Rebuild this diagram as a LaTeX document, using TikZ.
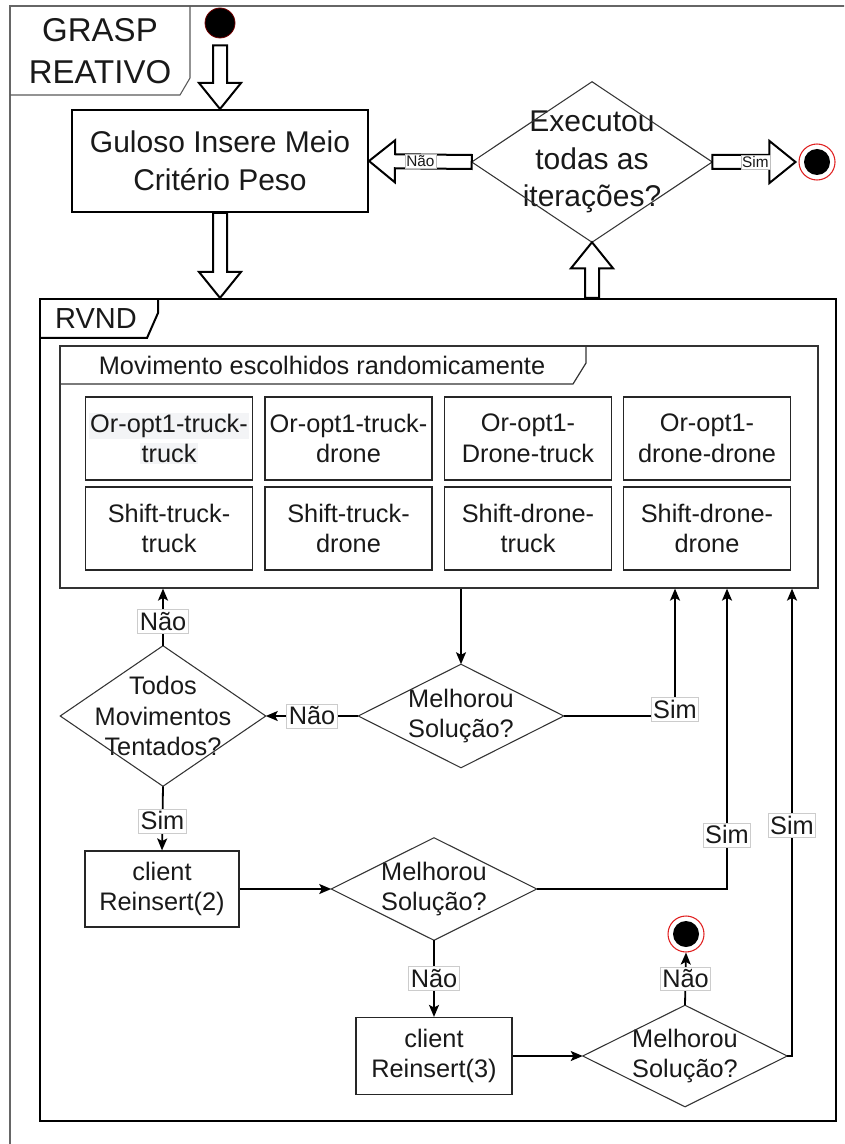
\documentclass[tikz,border=0pt]{standalone}
\usepackage{fontspec}
\setmainfont{Liberation Sans}
\usetikzlibrary{calc,arrows.meta}

\definecolor{hlgray}{HTML}{F3F4F6}
\definecolor{ringred}{HTML}{E02020}

% geometry of the wide hollow arrows
\newcommand\haShaft{5.25pt}
\newcommand\haHalf{15.75pt}
\newcommand\haHead{19.5pt}
% hollow block arrow from #1 to #2 (tip at #2)
\newcommand\hollowarrow[2]{%
  \coordinate (ha-s) at (#1);
  \coordinate (ha-e) at (#2);
  \coordinate (ha-h) at ($(ha-e)!\haHead!(ha-s)$);
  \draw[hollow] ($(ha-s)!\haShaft!90:(ha-e)$)
    -- ($(ha-h)!\haShaft!-90:(ha-s)$)
    -- ($(ha-h)!\haHalf!-90:(ha-s)$)
    -- (ha-e)
    -- ($(ha-h)!\haHalf!90:(ha-s)$)
    -- ($(ha-h)!\haShaft!90:(ha-s)$)
    -- ($(ha-s)!\haShaft!-90:(ha-e)$) -- cycle;
}
% rhombus outline through the anchors of a decision node
\newcommand\diaframe[1]{%
  \draw[diaedge] (#1.north) -- (#1.east) -- (#1.south) -- (#1.west) -- cycle;
}

\begin{document}
\begin{tikzpicture}[x=0.75pt,y=-0.75pt,
  every node/.style={text=black!90,font=\fontsize{19}{23}\selectfont},
  hollow/.style={draw=black,line width=1.5pt,fill=white,line join=miter},
  movebox/.style={draw=black!85,line width=0.9pt,align=center,inner sep=0pt,
    minimum width=125.25pt,minimum height=62.25pt},
  stepbox/.style={draw=black!85,line width=0.9pt,align=center,inner sep=0pt},
  dia/.style={rectangle,inner sep=0pt,align=center},
  diaedge/.style={draw=black!80,line width=0.8pt},
  conn/.style={draw=black,line width=1.35pt,-{Stealth[length=9pt,width=7.5pt,inset=2pt]}},
  lbl/.style={fill=white,draw=black!20,line width=0.5pt,inner xsep=1.5pt,inner ysep=2pt},
  smalllbl/.style={fill=white,draw=black!25,line width=0.4pt,inner xsep=1pt,inner ysep=1pt,
    font=\fontsize{11.5}{13.5}\selectfont},
  startmark/.style={circle,fill=black,draw=red!45!black,line width=0.6pt,
    minimum size=22.5pt,inner sep=0pt},
  endmark/.style={circle,draw=ringred,line width=0.8pt,fill=white,minimum size=27pt,
    inner sep=0pt,path picture={\fill[black] (path picture bounding box.center) circle (9.75pt);}},
]
\useasboundingbox (0,0) rectangle (844,1144);
\clip (0,0) rectangle (844,1144);

% outer frame with its title tab
\draw[draw=black!60,line width=1.2pt] (10,6) rectangle (860,1160);
\draw[draw=black!65,line width=0.8pt] (190,6) -- (190,78) -- (180,95) -- (10,95);
\node[align=center,font=\fontsize{24.75}{31.5}\selectfont] (grasp) at (100,51) {GRASP\\REATIVO};

% start and greedy construction
\node[startmark] (start) at (220,23) {};
\node[draw=black,line width=1.5pt,align=center,inner sep=0pt,
  minimum width=222pt,minimum height=76.5pt,
  font=\fontsize{22.5}{28.5}\selectfont] (guloso) at (220,161) {Guloso Insere Meio\\Critério Peso};

% iteration check
\node[dia,minimum width=180pt,minimum height=120pt,
  font=\fontsize{22.5}{28}\selectfont] (exec) at (592,162) {Executou\\todas as\\iterações?};
\diaframe{exec}
\node[endmark] (end1) at (817,162) {};

% RVND frame
\node[draw=black,line width=1.6pt,minimum width=597pt,minimum height=616.5pt,inner sep=0pt] (rvnd) at (438,710) {};
\draw[draw=black,line width=1.5pt] (158,299) -- (158,313) -- (147,338) -- (40,338);
\node[font=\fontsize{21.75}{26}\selectfont] (rvndtitle) at (96,319) {RVND};

% neighbourhood moves
\node[draw=black!80,line width=0.9pt,minimum width=568.5pt,minimum height=181.5pt,inner sep=0pt] (moves) at (439,467) {};
\draw[draw=black!80,line width=0.9pt] (586,346) -- (586,363) -- (573,384) -- (60,384);
\node (movestitle) at (322,365) {Movimento escolhidos randomicamente};

{\setlength{\fboxsep}{1pt}
\node[movebox] (g11) at (169,438.5) {\colorbox{hlgray}{Or-opt1-truck-}\\\colorbox{hlgray}{truck}};}
\node[movebox] (g12) at (348.5,438.5) {Or-opt1-truck-\\drone};
\node[movebox] (g13) at (528,438.5) {Or-opt1-\\Drone-truck};
\node[movebox] (g14) at (707,438.5) {Or-opt1-\\drone-drone};
\node[movebox] (g21) at (169,528.5) {Shift-truck-\\truck};
\node[movebox] (g22) at (348.5,528.5) {Shift-truck-\\drone};
\node[movebox] (g23) at (528,528.5) {Shift-drone-\\truck};
\node[movebox] (g24) at (707,528.5) {Shift-drone-\\drone};

% decisions and reinsertion steps
\node[dia,minimum width=153.75pt,minimum height=77.25pt] (m1) at (461,716) {Melhorou\\Solução?};
\diaframe{m1}
\node[dia,minimum width=153.75pt,minimum height=105pt] (todos) at (163,716) {Todos\\Movimentos\\Tentados?};
\diaframe{todos}
\node[stepbox,minimum width=115.5pt,minimum height=57pt] (box2) at (162,889) {client\\Reinsert(2)};
\node[dia,minimum width=153.75pt,minimum height=76.5pt] (m2) at (434,889) {Melhorou\\Solução?};
\diaframe{m2}
\node[stepbox,minimum width=117pt,minimum height=57.75pt] (box3) at (434,1056) {client\\Reinsert(3)};
\node[dia,minimum width=153pt,minimum height=75.75pt] (m3) at (685,1056) {Melhorou\\Solução?};
\diaframe{m3}
\node[endmark] (end2) at (686,934) {};

% columns of the return lines
\coordinate (c1) at (675,0);
\coordinate (c2) at (727,0);
\coordinate (c3) at (792,0);

% wide arrows of the outer loop
\hollowarrow{$(start.south)+(0,7)$}{guloso.north}
\hollowarrow{guloso.south}{rvnd.north -| guloso.south}
\hollowarrow{rvnd.north -| exec.south}{exec.south}
\hollowarrow{exec.west}{guloso.east}
\hollowarrow{exec.east}{$(end1.west)+(-3,0)$}
\node[smalllbl] (lnao0) at ($(exec.west)!0.5!(guloso.east)$) {Não};
\node[smalllbl] (lsim0) at ($(exec.east)!0.5!(end1.west)$) {Sim};

% connectors inside RVND
\draw[conn] (moves.south -| m1.north) -- (m1.north);
\draw[conn] (m1.west) -- node[lbl] (lnao1) {Não} (todos.east);
\draw[conn] (todos.north) -- node[lbl,pos=0.43] (lnao2) {Não} (moves.south -| todos.north);
\draw[conn] (m1.east) -| node[lbl,pos=0.5,yshift=5pt] (lsim1) {Sim} (moves.south -| c1);
\draw[conn] (todos.south) -- node[lbl,pos=0.54] (lsim2) {Sim} (box2.north);
\draw[conn] (box2.east) -- (m2.west);
\draw[conn] (m2.east) -| node[lbl,pos=0.59] (lsim3) {Sim} (moves.south -| c2);
\draw[conn] (m2.south) -- node[lbl] (lnao3) {Não} (box3.north);
\draw[conn] (box3.east) -- (m3.west);
\draw[conn] (m3.north) -- node[lbl] (lnao4) {Não} (end2.south);
\draw[conn] (m3.east) -| node[lbl,pos=0.747] (lsim4) {Sim} (moves.south -| c3);
\end{tikzpicture}
\end{document}
